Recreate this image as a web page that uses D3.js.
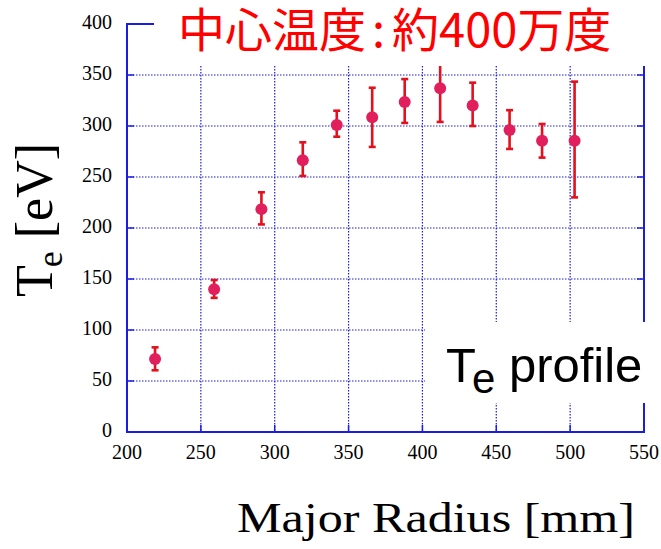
<!DOCTYPE html>
<html>
<head>
<meta charset="utf-8">
<script src="https://d3js.org/d3.v7.min.js"></script>
<style>
  body { margin: 0; background: #fff; }
</style>
</head>
<body>
<svg id="chart" width="661" height="549"></svg>
<script>
// values
const radius = [219, 259, 291, 319, 342, 366, 388, 412, 434, 459, 481, 503];
const te     = [71.5, 140, 218.5, 266.5, 301, 308.5, 323.5, 337, 320, 296, 285.5, 285.5];
const teHigh = [83, 149, 235, 284, 315, 337.5, 346, 370, 342.5, 315.5, 302, 343.5];
const teLow  = [60.5, 131.5, 203.5, 251, 289.5, 279.5, 303, 304, 300, 277.5, 269, 230];
const xTicks = [200, 250, 300, 350, 400, 450, 500, 550];
const yTicks = [0, 50, 100, 150, 200, 250, 300, 350, 400];

const svg = d3.select("#chart");
const pLeft = 127, pRight = 644, pTop = 24, pBottom = 432;
const blue = "#1c1ce0";

const x = d3.scaleLinear().domain([200, 550]).range([pLeft, pRight]);
const y = d3.scaleLinear().domain([0, 400]).range([pBottom, pTop]);

const data = radius.map((r, i) => ({r: r, t: te[i], hi: teHigh[i], lo: teLow[i]}));

// dotted grid
const grid = svg.append("g").attr("stroke", blue).attr("stroke-width", 1.2)
  .attr("stroke-dasharray", "1.5,1.5");
grid.selectAll("line.gx").data(xTicks.slice(1, -1)).join("line").attr("class", "gx")
  .attr("x1", d => x(d)).attr("x2", d => x(d)).attr("y1", pTop).attr("y2", pBottom);
grid.selectAll("line.gy").data(yTicks.slice(1, -1)).join("line").attr("class", "gy")
  .attr("x1", pLeft).attr("x2", pRight).attr("y1", d => y(d)).attr("y2", d => y(d));

// frame + inward ticks
svg.append("rect").attr("x", pLeft).attr("y", pTop)
  .attr("width", pRight - pLeft).attr("height", pBottom - pTop)
  .attr("fill", "none").attr("stroke", blue).attr("stroke-width", 2);
const tk = svg.append("g").attr("stroke", blue).attr("stroke-width", 1.5);
xTicks.forEach(v => {
  tk.append("line").attr("x1", x(v)).attr("x2", x(v)).attr("y1", pBottom).attr("y2", pBottom - 7);
  tk.append("line").attr("x1", x(v)).attr("x2", x(v)).attr("y1", pTop).attr("y2", pTop + 7);
});
yTicks.forEach(v => {
  tk.append("line").attr("x1", pLeft).attr("x2", pLeft + 7).attr("y1", y(v)).attr("y2", y(v));
  tk.append("line").attr("x1", pRight).attr("x2", pRight - 7).attr("y1", y(v)).attr("y2", y(v));
});

// error bars
const eb = svg.append("g").attr("stroke", "#e3101e").attr("stroke-width", 2.6);
eb.selectAll("line.v").data(data).join("line").attr("class", "v")
  .attr("x1", d => x(d.r)).attr("x2", d => x(d.r))
  .attr("y1", d => y(d.hi)).attr("y2", d => y(d.lo));
eb.selectAll("line.h").data(data).join("line").attr("class", "h")
  .attr("x1", d => x(d.r) - 3.5).attr("x2", d => x(d.r) + 3.5)
  .attr("y1", d => y(d.hi)).attr("y2", d => y(d.hi));
eb.selectAll("line.l").data(data).join("line").attr("class", "l")
  .attr("x1", d => x(d.r) - 3.5).attr("x2", d => x(d.r) + 3.5)
  .attr("y1", d => y(d.lo)).attr("y2", d => y(d.lo));

svg.selectAll("circle").data(data).join("circle")
  .attr("cx", d => x(d.r)).attr("cy", d => y(d.t)).attr("r", 6)
  .attr("fill", "#e01f5c");

// white boxes covering the plot
svg.append("rect").attr("x", 154).attr("y", 0).attr("width", 507).attr("height", 66).attr("fill", "#fff");
svg.append("rect").attr("x", 425).attr("y", 322).attr("width", 236).attr("height", 81).attr("fill", "#fff");

// tick labels
const serif = "'Liberation Serif', 'Times New Roman', serif";
svg.append("g").selectAll("text").data(yTicks).join("text")
  .attr("x", 112).attr("y", d => y(d) - 2)
  .attr("text-anchor", "end").attr("dominant-baseline", "central")
  .attr("font-family", serif).attr("font-size", 20)
  .text(d => d);
svg.append("g").selectAll("text").data(xTicks).join("text")
  .attr("x", d => x(d)).attr("y", 459)
  .attr("text-anchor", "middle")
  .attr("font-family", serif).attr("font-size", 20)
  .text(d => d);

// axis titles
svg.append("text").attr("x", 237).attr("y", 532)
  .attr("font-family", serif).attr("font-size", 42)
  .attr("textLength", 398).attr("lengthAdjust", "spacingAndGlyphs")
  .text("Major Radius [mm]");

const yl = svg.append("text")
  .attr("transform", "translate(52,220) rotate(-90)")
  .attr("text-anchor", "middle")
  .attr("font-family", serif).attr("font-size", 52);
yl.append("tspan").text("T");
yl.append("tspan").attr("font-size", 36).attr("dy", 10).attr("dx", -2).text("e");
yl.append("tspan").attr("dy", -10).text(" [eV]");

// title
const ttl = svg.append("text").attr("x", 178).attr("y", 47)
  .attr("font-family", "'Noto Sans CJK JP', sans-serif").attr("font-size", 47)
  .attr("fill", "#ff0000");
ttl.append("tspan").text("中心温度");
ttl.append("tspan").attr("dx", 6).text(":");
ttl.append("tspan").attr("dx", 7).text("約400万度");

// inset label
const lab = svg.append("text").attr("x", 446).attr("y", 382)
  .attr("font-family", "'Liberation Sans', Arial, sans-serif").attr("font-size", 49)
  .attr("fill", "#000");
lab.append("tspan").text("T");
lab.append("tspan").attr("font-size", 42).attr("dy", 11).attr("dx", -4).text("e");
lab.append("tspan").attr("dy", -11).text(" profile");
</script>
</body>
</html>
